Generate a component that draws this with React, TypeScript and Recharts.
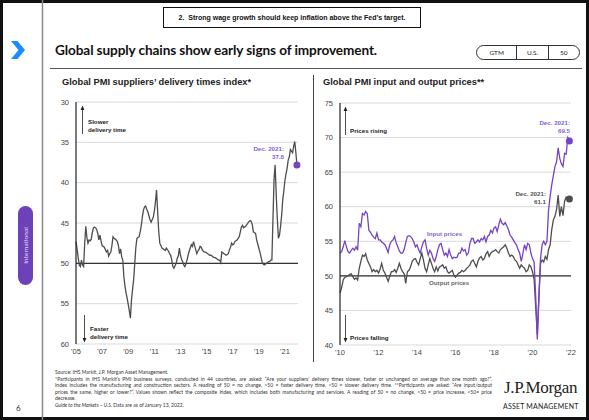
import React from "react";
import {
  LineChart,
  Line,
  XAxis,
  YAxis,
  CartesianGrid,
  ReferenceLine,
  ReferenceDot,
} from "recharts";

// Global PMI suppliers' delivery times index, monthly Jan 2005 - Dec 2021 (inverted axis)
const deliveryTimes = [
  47.3, 48.2, 49.3, 50.2, 50.4, 49.6, 50.2, 50.4, 47.5, 45.4, 46.8, 47.5,
  47.1, 47.2, 47.0, 46.2, 45.6, 45.5, 45.6, 45.8, 46.3, 47.1, 46.5, 47.2,
  47.8, 47.9, 48.0, 48.3, 48.6, 48.4, 49.1, 48.8, 48.6, 47.8, 46.7, 46.9,
  47.0, 47.1, 47.3, 47.8, 48.8, 48.2, 49.2, 49.6, 51.7, 52.8, 53.7, 54.3,
  55.1, 55.9, 56.8, 54.5, 53.2, 52.0, 50.0, 48.0, 46.9, 46.8, 46.7, 46.1,
  45.3, 44.2, 43.4, 43.0, 42.9, 43.3, 43.6, 44.1, 44.6, 44.9, 44.6, 44.3,
  43.5, 42.4, 40.9, 43.5, 46.0, 47.5, 47.8, 48.1, 48.2, 48.3, 48.4, 48.1,
  48.3, 48.5, 48.8, 49.0, 49.6, 50.4, 50.6, 50.3, 50.0, 49.4, 49.1, 48.1,
  49.0, 49.5, 49.8, 50.2, 50.4, 50.1, 49.6, 49.0, 48.5, 48.1, 47.7, 47.9,
  47.3, 47.8, 48.3, 48.8, 48.5, 48.3, 47.9, 48.0, 48.3, 48.5, 48.6, 48.6,
  48.7, 48.8, 48.9, 49.0, 49.0, 49.1, 49.2, 49.3, 49.3, 49.4, 49.5, 49.6,
  49.6, 49.9, 48.6, 48.7, 48.8, 48.9, 49.0, 48.9, 48.8, 48.3, 48.0, 47.5,
  47.7, 47.6, 47.3, 47.2, 47.1, 46.9, 46.7, 46.1, 45.5, 45.3, 45.6, 45.5,
  45.4, 45.2, 45.0, 44.8, 44.7, 44.8, 45.2, 46.1, 46.2, 46.3, 47.1, 47.6,
  48.1, 48.6, 49.2, 49.8, 50.1, 50.2, 50.1, 50.0, 49.9, 49.8, 49.8, 49.6,
  49.6, 44.5, 39.5, 37.8, 41.5, 44.5, 46.9, 46.5, 45.4, 44.0, 42.1, 41.0,
  39.7, 38.9, 38.2, 37.2, 36.8, 35.9, 36.1, 36.3, 35.5, 34.9, 36.2, 37.8,
];

// Global PMI input prices, monthly Jan 2010 - Dec 2021
const inputPrices = [
  53.3, 53.5, 54.2, 55.1, 54.2, 53.5, 53.3, 53.7, 54.0, 53.7, 54.2, 53.7,
  57.6, 57.1, 59.0, 58.8, 59.3, 59.0, 56.6, 56.3, 55.9, 55.6, 55.4, 56.2,
  55.2, 55.2, 54.9, 54.7, 54.5, 54.0, 53.4, 54.5, 55.0, 55.2, 55.7, 54.8,
  54.2, 53.6, 53.3, 53.3, 53.8, 54.8, 55.7, 55.8, 55.7, 55.4, 54.9, 54.2,
  54.5, 53.8, 53.3, 54.2, 54.9, 55.2, 54.0, 53.0, 53.7, 53.3, 52.5, 52.1,
  52.8, 53.8, 54.5, 54.7, 53.8, 53.0, 53.3, 52.8, 53.8, 53.0, 52.5, 52.7,
  52.6, 52.7, 53.3, 53.3, 54.0, 53.6, 53.8, 53.0, 53.3, 54.7, 55.4, 55.4,
  54.7, 54.9, 55.2, 54.9, 55.4, 55.2, 55.7, 54.9, 55.7, 55.9, 56.6, 56.2,
  56.9, 57.1, 56.4, 57.4, 58.2, 57.6, 57.4, 57.7, 57.2, 56.7, 55.9, 55.6,
  55.2, 54.8, 54.5, 53.8, 53.3, 52.1, 53.2, 54.5, 53.8, 54.7, 54.5, 53.3,
  52.5, 52.0, 47.0, 40.8, 47.0, 52.5, 54.5, 55.0, 54.5, 55.0, 59.5, 61.5,
  63.2, 64.5, 65.8, 66.5, 68.5, 67.0, 66.2, 65.8, 67.7, 67.6, 70.0, 69.5,
];

// Global PMI output prices, monthly Jan 2010 - Dec 2021
const outputPrices = [
  47.5, 48.3, 49.4, 49.8, 49.9, 50.0, 50.2, 50.3, 49.9, 49.5, 49.7, 49.4,
  51.1, 52.1, 53.0, 52.8, 53.2, 52.3, 51.8, 51.3, 50.6, 50.9, 50.6, 50.8,
  50.4, 51.0, 51.8, 50.8, 50.4, 49.8, 49.2, 49.9, 50.6, 50.6, 50.9, 50.5,
  51.1, 51.8, 51.1, 50.6, 50.3, 48.9, 50.6, 50.8, 51.3, 52.1, 52.4, 52.5,
  52.0, 51.6, 52.5, 53.3, 52.3, 51.1, 50.6, 51.6, 52.5, 51.8, 51.1, 50.6,
  51.3, 50.7, 51.3, 51.4, 51.6, 51.1, 51.3, 50.6, 50.4, 50.6, 50.8, 50.1,
  49.8, 50.1, 50.4, 50.5, 50.8, 50.6, 50.8, 51.1, 51.3, 51.6, 52.1, 52.3,
  51.8, 51.3, 52.1, 52.6, 52.8, 52.3, 52.5, 53.2, 53.5, 52.8, 53.3, 53.5,
  53.6, 53.8, 53.5, 53.3, 53.8, 54.0, 54.2, 54.5, 54.0, 53.3, 52.8, 53.0,
  52.8, 52.3, 52.1, 51.6, 51.1, 51.6, 51.3, 51.1, 50.6, 50.8, 51.6, 51.3,
  50.6, 49.5, 45.5, 41.5, 47.0, 51.8, 52.3, 52.0, 52.8, 52.4, 53.8, 54.5,
  56.7, 58.1, 58.6, 59.6, 61.7, 58.6, 60.0, 58.7, 60.8, 61.4, 61.3, 61.1,
];

const leftXTicks = [2005, 2007, 2009, 2011, 2013, 2015, 2017, 2019, 2021];
const leftXLabels = ["'05", "'07", "'09", "'11", "'13", "'15", "'17", "'19", "'21"];
const leftYTicks = [30, 35, 40, 45, 50, 55, 60];

const rightXTicks = [2010, 2012, 2014, 2016, 2018, 2020, 2022];
const rightXLabels = ["'10", "'12", "'14", "'16", "'18", "'20", "'22"];
const rightYTicks = [40, 45, 50, 55, 60, 65, 70, 75];

const PURPLE = "#7443c6";
const GRAY = "#4d4d4d";
const GRID = "#cfcfcf";
const CHART_FONT = "'Liberation Sans', Arial, sans-serif";
const SLIDE_FONT = "Lato, 'Open Sans', sans-serif";

const leftData = deliveryTimes.map((v, i) => ({ t: 2005 + i / 12, v }));
const rightData = inputPrices.map((v, i) => ({
  t: 2010 + i / 12,
  input: v,
  output: outputPrices[i],
}));

const lastLeft = leftData[leftData.length - 1];
const lastRight = rightData[rightData.length - 1];

const tickStyle = { fontSize: 7.5, fill: "#444", fontFamily: CHART_FONT };

function fmtTick(ticks: number[], labels: string[]) {
  return (v: number) => labels[ticks.indexOf(v)] ?? "";
}

function DeliveryChart() {
  return (
    <LineChart
      width={260}
      height={270}
      data={leftData}
      margin={{ top: 7, right: 8, bottom: 5, left: 0 }}
    >
      <CartesianGrid vertical={false} stroke={GRID} strokeWidth={0.8} />
      <XAxis
        dataKey="t"
        type="number"
        domain={[2005, 2022]}
        ticks={leftXTicks}
        tickFormatter={fmtTick(leftXTicks, leftXLabels)}
        axisLine={false}
        tickLine={false}
        tickSize={0}
        tickMargin={5}
        height={16}
        tick={tickStyle}
      />
      <YAxis
        reversed
        domain={[30, 60]}
        ticks={leftYTicks}
        width={30}
        axisLine={{ stroke: "#222", strokeWidth: 1.2 }}
        tickLine={false}
        tickSize={0}
        tickMargin={7}
        tick={tickStyle}
      />
      <ReferenceLine y={50} stroke="#333" strokeWidth={1.4} />
      <Line
        dataKey="v"
        stroke={GRAY}
        strokeWidth={1.3}
        dot={false}
        isAnimationActive={false}
      />
      <ReferenceDot x={lastLeft.t} y={lastLeft.v} r={3.5} fill={PURPLE} stroke="none" />
    </LineChart>
  );
}

function PricesChart() {
  return (
    <LineChart
      width={275}
      height={272}
      data={rightData}
      margin={{ top: 8, right: 9, bottom: 6, left: 0 }}
    >
      <CartesianGrid vertical={false} stroke={GRID} strokeWidth={0.8} />
      <XAxis
        dataKey="t"
        type="number"
        domain={[2010, 2022]}
        ticks={rightXTicks}
        tickFormatter={fmtTick(rightXTicks, rightXLabels)}
        axisLine={false}
        tickLine={false}
        tickSize={0}
        tickMargin={5}
        height={16}
        tick={tickStyle}
      />
      <YAxis
        domain={[40, 75]}
        ticks={rightYTicks}
        width={35}
        axisLine={{ stroke: "#222", strokeWidth: 1.2 }}
        tickLine={false}
        tickSize={0}
        tickMargin={7}
        tick={tickStyle}
      />
      <ReferenceLine y={50} stroke="#333" strokeWidth={1.4} />
      <Line
        dataKey="output"
        stroke={GRAY}
        strokeWidth={1.3}
        dot={false}
        isAnimationActive={false}
      />
      <Line
        dataKey="input"
        stroke={PURPLE}
        strokeWidth={1.3}
        dot={false}
        isAnimationActive={false}
      />
      <ReferenceDot x={lastRight.t} y={lastRight.output} r={3.5} fill={GRAY} stroke="none" />
      <ReferenceDot x={lastRight.t} y={lastRight.input} r={3.5} fill={PURPLE} stroke="none" />
    </LineChart>
  );
}

const footLine: React.CSSProperties = { textAlign: "justify", textAlignLast: "justify", whiteSpace: "nowrap" };

export default function App() {
  const abs = (l: number, t: number): React.CSSProperties => ({
    position: "absolute",
    left: l,
    top: t,
  });
  return (
    <div
      style={{
        position: "absolute",
        left: 0,
        top: 0,
        width: 589,
        height: 420,
        background: "#fff",
        overflow: "hidden",
        fontFamily: SLIDE_FONT,
      }}
    >
      {/* frame, sidebar, arrows and labels */}
      <svg width={589} height={420} style={abs(0, 0)}>
        <rect x={1.5} y={1.5} width={586} height={417} fill="none" stroke="#111" strokeWidth={3} />
        <line x1={42.5} y1={0} x2={42.5} y2={420} stroke="#888" strokeWidth={1.5} />
        <polygon points="11,41 17.5,41 25,50 17.5,59 11,59 18.5,50" fill="#1a8cff" />
        <rect x={163.5} y={7.5} width={257} height={20} fill="#fff" stroke="#111" strokeWidth={1} />
        <line x1={50} y1={68.5} x2={582} y2={68.5} stroke="#555" strokeWidth={1} />
        <line x1={313.5} y1={75} x2={313.5} y2={362} stroke="#444" strokeWidth={1} />
        <rect x={18} y={206} width={15} height={79} rx={7.5} fill="#6d42b8" />
        <text
          x={0}
          y={0}
          transform="translate(27.8,245.5) rotate(-90)"
          textAnchor="middle"
          fontSize={6.5}
          fill="#e6dcf5"
          fontFamily={SLIDE_FONT}
        >
          International
        </text>
        <text x={16} y={411} fontSize={8} fill="#333" fontFamily={SLIDE_FONT}>6</text>

        {/* left chart annotations */}
        <g fontFamily={CHART_FONT} fontWeight="bold" fontSize={6.2} fill="#222">
          <line x1={82.5} y1={134} x2={82.5} y2={109} stroke="#222" strokeWidth={0.8} />
          <polygon points="80.6,110 84.4,110 82.5,105.5" fill="#222" />
          <text x={88} y={124}>Slower</text>
          <text x={88} y={131.5}>delivery time</text>
          <line x1={84.5} y1={315} x2={84.5} y2={339} stroke="#222" strokeWidth={0.8} />
          <polygon points="82.6,338 86.4,338 84.5,342.5" fill="#222" />
          <text x={90} y={331}>Faster</text>
          <text x={90} y={338.5}>delivery time</text>
        </g>
        <g fontFamily={CHART_FONT} fontWeight="bold" fontSize={6.2} fill="#8a5fd2" textAnchor="end">
          <text x={284} y={151}>Dec. 2021:</text>
          <text x={284} y={158.5}>37.8</text>
        </g>

        {/* right chart annotations */}
        <g fontFamily={CHART_FONT} fontWeight="bold" fontSize={6.2} fill="#222">
          <line x1={345.5} y1={135} x2={345.5} y2={110} stroke="#222" strokeWidth={0.8} />
          <polygon points="343.6,111 347.4,111 345.5,106.5" fill="#222" />
          <text x={350} y={133}>Prices rising</text>
          <line x1={345.5} y1={315} x2={345.5} y2={339} stroke="#222" strokeWidth={0.8} />
          <polygon points="343.6,338 347.4,338 345.5,342.5" fill="#222" />
          <text x={350} y={339.5}>Prices falling</text>
        </g>
        <g fontFamily={CHART_FONT} fontWeight="bold" fontSize={6.2}>
          <text x={427} y={236} fill="#8a5fd2">Input prices</text>
          <text x={429} y={285} fill="#666">Output prices</text>
          <text x={570} y={125} fill="#8a5fd2" textAnchor="end">Dec. 2021:</text>
          <text x={570} y={132.5} fill="#8a5fd2" textAnchor="end">69.5</text>
          <text x={546} y={196} fill="#555" textAnchor="end">Dec. 2021:</text>
          <text x={546} y={203.5} fill="#555" textAnchor="end">61.1</text>
        </g>
      </svg>

      <div
        style={{
          ...abs(164, 8),
          width: 256,
          height: 19,
          lineHeight: "19px",
          textAlign: "center",
          fontFamily: CHART_FONT,
          fontWeight: "bold",
          fontSize: 7,
          color: "#111",
        }}
      >
        2.&nbsp; Strong wage growth should keep inflation above the Fed’s target.
      </div>

      <div
        style={{
          ...abs(55, 42),
          fontSize: 13.6,
          fontWeight: 700,
          color: "#111",
          letterSpacing: -0.1,
          whiteSpace: "nowrap",
        }}
      >
        Global supply chains show early signs of improvement.
      </div>

      <div
        style={{
          ...abs(476, 45),
          width: 104,
          height: 15,
          border: "1px solid #333",
          borderRadius: 8,
          display: "flex",
          fontSize: 6.5,
          color: "#222",
          boxSizing: "border-box",
        }}
      >
        {["GTM", "U.S.", "50"].map((s, i) => (
          <div
            key={s}
            style={{
              flex: i === 0 ? 1.3 : 1,
              textAlign: "center",
              lineHeight: "13px",
              borderLeft: i === 0 ? "none" : "1px solid #333",
            }}
          >
            {s}
          </div>
        ))}
      </div>

      <div
        style={{
          ...abs(62, 77),
          fontFamily: CHART_FONT,
          fontWeight: "bold",
          fontSize: 9.3,
          color: "#222",
          whiteSpace: "nowrap",
        }}
      >
        Global PMI suppliers’ delivery times index*
      </div>
      <div
        style={{
          ...abs(323, 77),
          fontFamily: CHART_FONT,
          fontWeight: "bold",
          fontSize: 9.3,
          color: "#222",
          whiteSpace: "nowrap",
        }}
      >
        Global PMI input and output prices**
      </div>

      <div style={abs(46, 95)}>
        <DeliveryChart />
      </div>
      <div style={abs(305, 95)}>
        <PricesChart />
      </div>

      <div
        style={{
          ...abs(55, 369),
          width: 437,
          fontSize: 5,
          lineHeight: "6.5px",
          color: "#333",
        }}
      >
        <div>Source: IHS Markit, J.P. Morgan Asset Management.</div>
        <div style={footLine}>
          *Participants in IHS Markit’s PMI business surveys, conducted in 44 countries, are asked: “Are your suppliers’ delivery times slower, faster or unchanged on average than one month ago?”.
        </div>
        <div style={footLine}>
          Index includes the manufacturing and construction sectors. A reading of 50 = no change, &gt;50 = faster delivery time, &lt;50 = slower delivery time. **Participants are asked: “Are input/output
        </div>
        <div style={footLine}>
          prices the same, higher or lower?”. Values shown reflect the composite index, which includes both manufacturing and services. A reading of 50 = no change, &gt;50 = price increase, &lt;50= price
        </div>
        <div>decrease.</div>
        <div>
          <i>Guide to the Markets – U.S.</i> Data are as of January 13, 2022.
        </div>
      </div>

      <div
        style={{
          ...abs(504, 378),
          fontFamily: "'Liberation Serif', 'DejaVu Serif', serif",
          fontSize: 17,
          color: "#222",
          whiteSpace: "nowrap",
          letterSpacing: -0.3,
        }}
      >
        J.P.Morgan
      </div>
      <div
        style={{
          ...abs(503, 402),
          fontSize: 7,
          color: "#222",
          whiteSpace: "nowrap",
          letterSpacing: 0.2,
        }}
      >
        ASSET MANAGEMENT
      </div>
    </div>
  );
}
